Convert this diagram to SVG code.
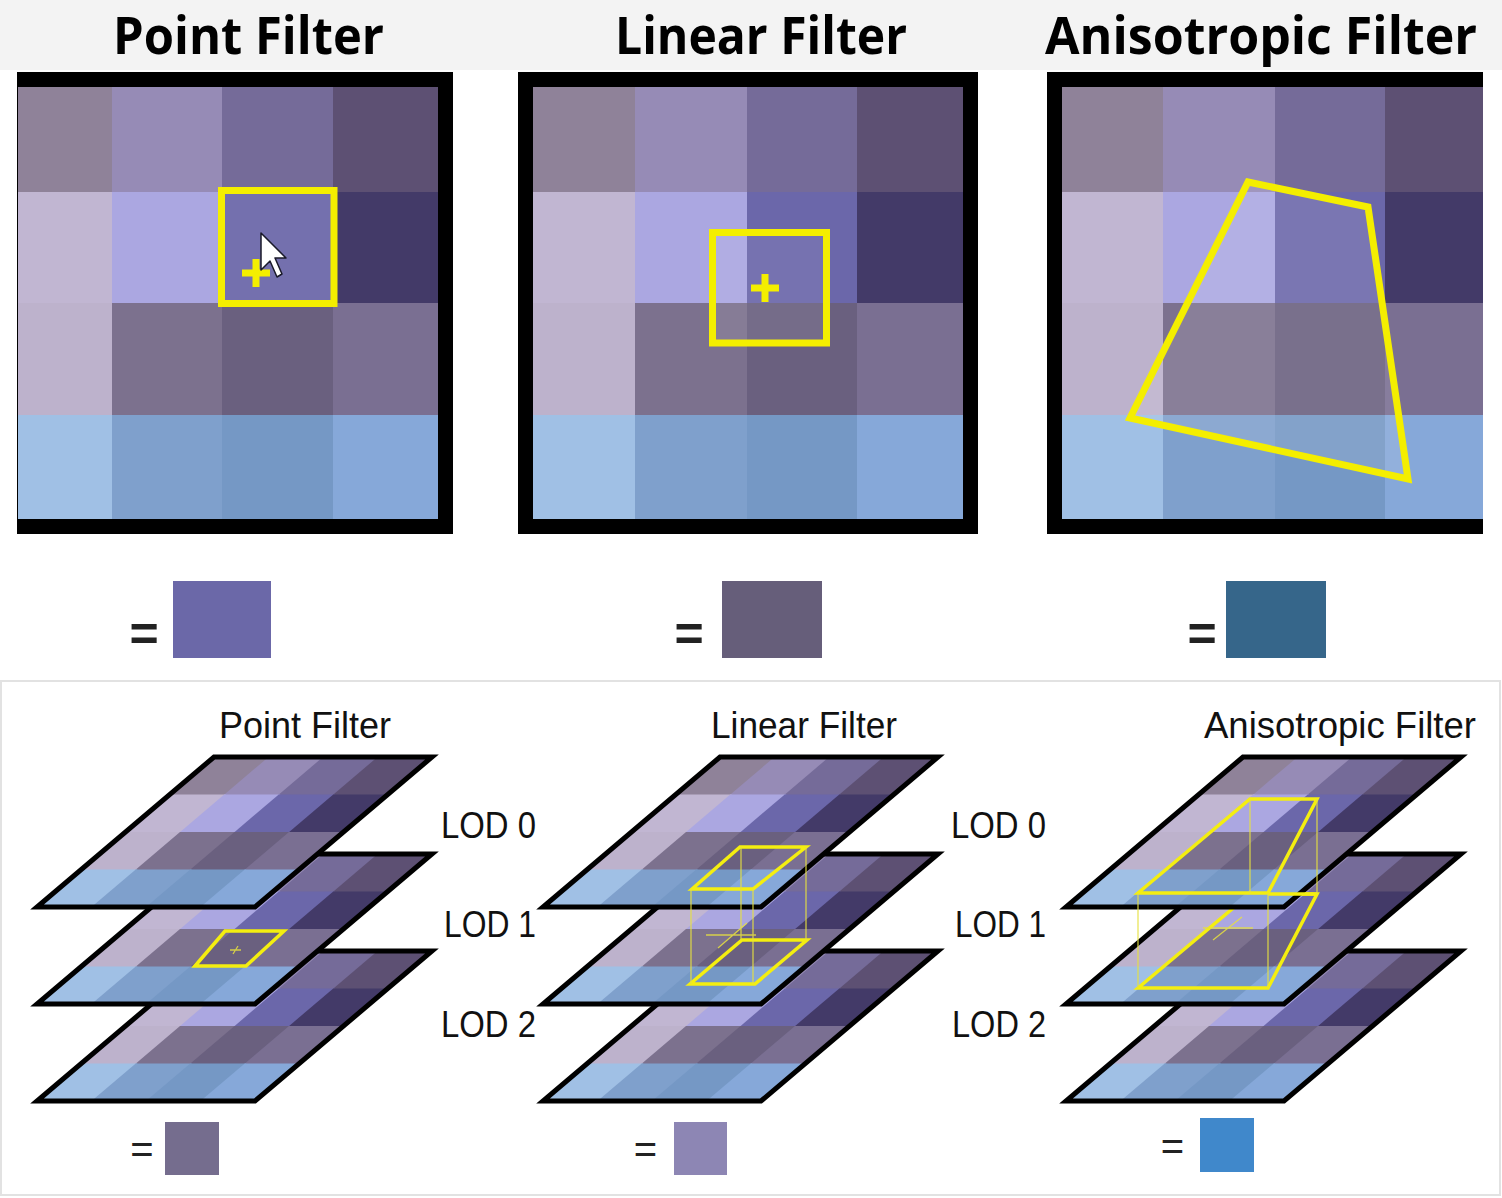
<svg xmlns="http://www.w3.org/2000/svg" xmlns:xlink="http://www.w3.org/1999/xlink" width="1502" height="1198" viewBox="0 0 1502 1198">
<style>
.title{font-family:"Open Sans","Noto Sans","Liberation Sans",sans-serif;font-weight:700;font-size:52px;fill:#000}
.lbl{font-family:"Liberation Sans",Arial,sans-serif;font-size:36px;fill:#111}
.eqb{font-family:"Liberation Sans",Arial,sans-serif;font-weight:700;font-size:50px;fill:#222}
.eq{font-family:"Liberation Sans",Arial,sans-serif;font-size:40px;fill:#222}
.ybox{fill:none;stroke:#f4ee00;stroke-width:7;stroke-linejoin:miter}
.layer{fill:none;stroke:#000;stroke-width:5;stroke-linejoin:miter}
.ymid{fill:none;stroke:#f4ee10;stroke-width:3.5;stroke-linejoin:miter}
.ythin{fill:none;stroke:#e6e040;stroke-width:1.3;opacity:0.85}
</style>
<defs>
<g id="tex">
<rect x="0" y="0" width="1.03" height="1.03" fill="#8f8299"/>
<rect x="1" y="0" width="1.03" height="1.03" fill="#968bb6"/>
<rect x="2" y="0" width="1.03" height="1.03" fill="#756b99"/>
<rect x="3" y="0" width="1" height="1.03" fill="#5d5073"/>
<rect x="0" y="1" width="1.03" height="1.03" fill="#c1b6d2"/>
<rect x="1" y="1" width="1.03" height="1.03" fill="#aba7e1"/>
<rect x="2" y="1" width="1.03" height="1.03" fill="#6b67aa"/>
<rect x="3" y="1" width="1" height="1.03" fill="#433a68"/>
<rect x="0" y="2" width="1.03" height="1.03" fill="#bdb2cc"/>
<rect x="1" y="2" width="1.03" height="1.03" fill="#7c718e"/>
<rect x="2" y="2" width="1.03" height="1.03" fill="#6a607f"/>
<rect x="3" y="2" width="1" height="1.03" fill="#7a6f92"/>
<rect x="0" y="3" width="1.03" height="1" fill="#a0c0e5"/>
<rect x="1" y="3" width="1.03" height="1" fill="#7fa0cc"/>
<rect x="2" y="3" width="1.03" height="1" fill="#7598c5"/>
<rect x="3" y="3" width="1" height="1" fill="#86a8d9"/>
</g>
</defs>
<rect width="1502" height="1198" fill="#ffffff"/>
<rect x="0" y="0" width="1502" height="70" fill="#f3f3f3"/>
<rect x="1" y="681" width="1499" height="514" fill="none" stroke="#e2e2e2" stroke-width="2"/>

<g id="top-point">
<rect x="17" y="72" width="436" height="462" fill="#000"/>
<rect x="18" y="87" width="94" height="105" fill="#8f8299"/>
<rect x="112" y="87" width="110" height="105" fill="#968bb6"/>
<rect x="222" y="87" width="111" height="105" fill="#756b99"/>
<rect x="333" y="87" width="105" height="105" fill="#5d5073"/>
<rect x="18" y="192" width="94" height="111" fill="#c1b6d2"/>
<rect x="112" y="192" width="110" height="111" fill="#aba7e1"/>
<rect x="222" y="192" width="111" height="111" fill="#7470ae"/>
<rect x="333" y="192" width="105" height="111" fill="#433a68"/>
<rect x="18" y="303" width="94" height="112" fill="#bdb2cc"/>
<rect x="112" y="303" width="110" height="112" fill="#7c718e"/>
<rect x="222" y="303" width="111" height="112" fill="#6a607f"/>
<rect x="333" y="303" width="105" height="112" fill="#7a6f92"/>
<rect x="18" y="415" width="94" height="104" fill="#a0c0e5"/>
<rect x="112" y="415" width="110" height="104" fill="#7fa0cc"/>
<rect x="222" y="415" width="111" height="104" fill="#7598c5"/>
<rect x="333" y="415" width="105" height="104" fill="#86a8d9"/>
<rect class="ybox" x="221.5" y="190.5" width="112.5" height="113"/>
<path d="M242 273 H270 M256 259 V287" stroke="#f4ee00" stroke-width="7" fill="none"/>
<path d="M261 233 L261 270 L270 261 L277 277 L282 274 L275 258 L286 258 Z" fill="#ffffff" stroke="#1a1a2a" stroke-width="1.5" stroke-linejoin="round"/>
<text class="title" x="248.5" y="54" text-anchor="middle" textLength="271" lengthAdjust="spacingAndGlyphs">Point Filter</text>
</g>

<g id="top-linear">
<rect x="518" y="72" width="460" height="462" fill="#000"/>
<rect x="533" y="87" width="102" height="105" fill="#8f8299"/>
<rect x="635" y="87" width="112" height="105" fill="#968bb6"/>
<rect x="747" y="87" width="110" height="105" fill="#756b99"/>
<rect x="857" y="87" width="106" height="105" fill="#5d5073"/>
<rect x="533" y="192" width="102" height="111" fill="#c1b6d2"/>
<rect x="635" y="192" width="112" height="111" fill="#aba7e1"/>
<rect x="747" y="192" width="110" height="111" fill="#6b67aa"/>
<rect x="857" y="192" width="106" height="111" fill="#433a68"/>
<rect x="533" y="303" width="102" height="112" fill="#bdb2cc"/>
<rect x="635" y="303" width="112" height="112" fill="#7c718e"/>
<rect x="747" y="303" width="110" height="112" fill="#6a607f"/>
<rect x="857" y="303" width="106" height="112" fill="#7a6f92"/>
<rect x="533" y="415" width="102" height="104" fill="#a0c0e5"/>
<rect x="635" y="415" width="112" height="104" fill="#7fa0cc"/>
<rect x="747" y="415" width="110" height="104" fill="#7598c5"/>
<rect x="857" y="415" width="106" height="104" fill="#86a8d9"/>
<rect x="713" y="233" width="113" height="110" fill="#ffffff" opacity="0.08"/>
<rect class="ybox" x="712.5" y="232.5" width="114" height="110.5"/>
<path d="M751 288 H779 M765 274 V302" stroke="#f4ee00" stroke-width="7" fill="none"/>
<text class="title" x="761" y="54" text-anchor="middle" textLength="292" lengthAdjust="spacingAndGlyphs">Linear Filter</text>
</g>

<g id="top-anisotropic">
<rect x="1047" y="72" width="436" height="462" fill="#000"/>
<rect x="1062" y="87" width="101" height="105" fill="#8f8299"/>
<rect x="1163" y="87" width="112" height="105" fill="#968bb6"/>
<rect x="1275" y="87" width="110" height="105" fill="#756b99"/>
<rect x="1385" y="87" width="98" height="105" fill="#5d5073"/>
<rect x="1062" y="192" width="101" height="111" fill="#c1b6d2"/>
<rect x="1163" y="192" width="112" height="111" fill="#aba7e1"/>
<rect x="1275" y="192" width="110" height="111" fill="#6b67aa"/>
<rect x="1385" y="192" width="98" height="111" fill="#433a68"/>
<rect x="1062" y="303" width="101" height="112" fill="#bdb2cc"/>
<rect x="1163" y="303" width="112" height="112" fill="#7c718e"/>
<rect x="1275" y="303" width="110" height="112" fill="#6a607f"/>
<rect x="1385" y="303" width="98" height="112" fill="#7a6f92"/>
<rect x="1062" y="415" width="101" height="104" fill="#a0c0e5"/>
<rect x="1163" y="415" width="112" height="104" fill="#7fa0cc"/>
<rect x="1275" y="415" width="110" height="104" fill="#7598c5"/>
<rect x="1385" y="415" width="98" height="104" fill="#86a8d9"/>
<polygon points="1248,182 1368,207 1408,479 1130,418" fill="#ffffff" opacity="0.1"/>
<polygon class="ybox" points="1248,182 1368,207 1408,479 1130,418"/>
<text class="title" x="1261" y="54" text-anchor="middle" textLength="432" lengthAdjust="spacingAndGlyphs">Anisotropic Filter</text>
</g>

<g id="result-point">
<text class="eqb" x="144" y="651" text-anchor="middle">=</text>
<rect x="173" y="581" width="98" height="77" fill="#6b68a8"/>
</g>
<g id="result-linear">
<text class="eqb" x="689" y="651" text-anchor="middle">=</text>
<rect x="722" y="581" width="100" height="77" fill="#665e7a"/>
</g>
<g id="result-anisotropic">
<text class="eqb" x="1202" y="651" text-anchor="middle">=</text>
<rect x="1226" y="581" width="100" height="77" fill="#36668a"/>
</g>

<g id="mip-point">
<text class="lbl" x="219" y="738" textLength="172" lengthAdjust="spacingAndGlyphs">Point Filter</text>
<use xlink:href="#tex" transform="matrix(54.5 0 -44.25 37.5 214 951)"/>
<polygon class="layer" points="214,951 432,951 255,1101 37,1101"/>
<use xlink:href="#tex" transform="matrix(54.5 0 -44.25 37.5 214 854)"/>
<polygon class="layer" points="214,854 432,854 255,1004 37,1004"/>
<polygon class="ymid" points="195,966 225,931 284,931 246,966"/>
<path class="ythin" d="M230 950 H241 M233 954 L238 946"/>
<use xlink:href="#tex" transform="matrix(54.5 0 -44.25 37.5 214 757)"/>
<polygon class="layer" points="214,757 432,757 255,907 37,907"/>
</g>

<g id="lod-labels">
<text class="lbl" x="441" y="838" textLength="95" lengthAdjust="spacingAndGlyphs">LOD 0</text>
<text class="lbl" x="444" y="937" textLength="92" lengthAdjust="spacingAndGlyphs">LOD 1</text>
<text class="lbl" x="441" y="1037" textLength="95" lengthAdjust="spacingAndGlyphs">LOD 2</text>
<text class="lbl" x="951" y="838" textLength="95" lengthAdjust="spacingAndGlyphs">LOD 0</text>
<text class="lbl" x="955" y="937" textLength="91" lengthAdjust="spacingAndGlyphs">LOD 1</text>
<text class="lbl" x="952" y="1037" textLength="94" lengthAdjust="spacingAndGlyphs">LOD 2</text>
</g>

<g id="mip-linear">
<text class="lbl" x="711" y="738" textLength="186" lengthAdjust="spacingAndGlyphs">Linear Filter</text>
<use xlink:href="#tex" transform="matrix(54.5 0 -44.25 37.5 720 951)"/>
<polygon class="layer" points="720,951 938,951 761,1101 543,1101"/>
<use xlink:href="#tex" transform="matrix(54.5 0 -44.25 37.5 720 854)"/>
<polygon class="layer" points="720,854 938,854 761,1004 543,1004"/>
<polygon class="ymid" points="690,984 742,940 807,940 755,984"/>
<use xlink:href="#tex" transform="matrix(54.5 0 -44.25 37.5 720 757)"/>
<polygon class="layer" points="720,757 938,757 761,907 543,907"/>
<polygon class="ymid" points="692,889 740,847 806,847 753,889"/>
<path class="ythin" d="M691 889 V984 M753 889 V984 M806 847 V940 M741 847 V940 M706 935 H756 M718 948 L747 923"/>
</g>

<g id="mip-anisotropic">
<text class="lbl" x="1204" y="738" textLength="272" lengthAdjust="spacingAndGlyphs">Anisotropic Filter</text>
<use xlink:href="#tex" transform="matrix(54.5 0 -44.25 37.5 1243 951)"/>
<polygon class="layer" points="1243,951 1461,951 1284,1101 1066,1101"/>
<use xlink:href="#tex" transform="matrix(54.5 0 -44.25 37.5 1243 854)"/>
<polygon class="layer" points="1243,854 1461,854 1284,1004 1066,1004"/>
<polygon class="ymid" points="1138,988 1250,894 1317,894 1268,988"/>
<use xlink:href="#tex" transform="matrix(54.5 0 -44.25 37.5 1243 757)"/>
<polygon class="layer" points="1243,757 1461,757 1284,907 1066,907"/>
<polygon class="ymid" points="1138,893 1250,799 1317,799 1268,893"/>
<path class="ymid" d="M1268 894 H1317"/>
<path class="ythin" d="M1138 893 V988 M1268 893 V988 M1317 799 V894 M1250 799 V894 M1203 928 H1253 M1213 940 L1242 917"/>
</g>

<g id="result-lod">
<text class="eq" x="142" y="1163" text-anchor="middle">=</text>
<rect x="165" y="1122" width="54" height="53" fill="#756d8e"/>
<text class="eq" x="645.5" y="1163" text-anchor="middle">=</text>
<rect x="674" y="1122" width="53" height="53" fill="#8d86b4"/>
<text class="eq" x="1172.5" y="1160" text-anchor="middle">=</text>
<rect x="1200" y="1118" width="54" height="54" fill="#4088cb"/>
</g>
</svg>
